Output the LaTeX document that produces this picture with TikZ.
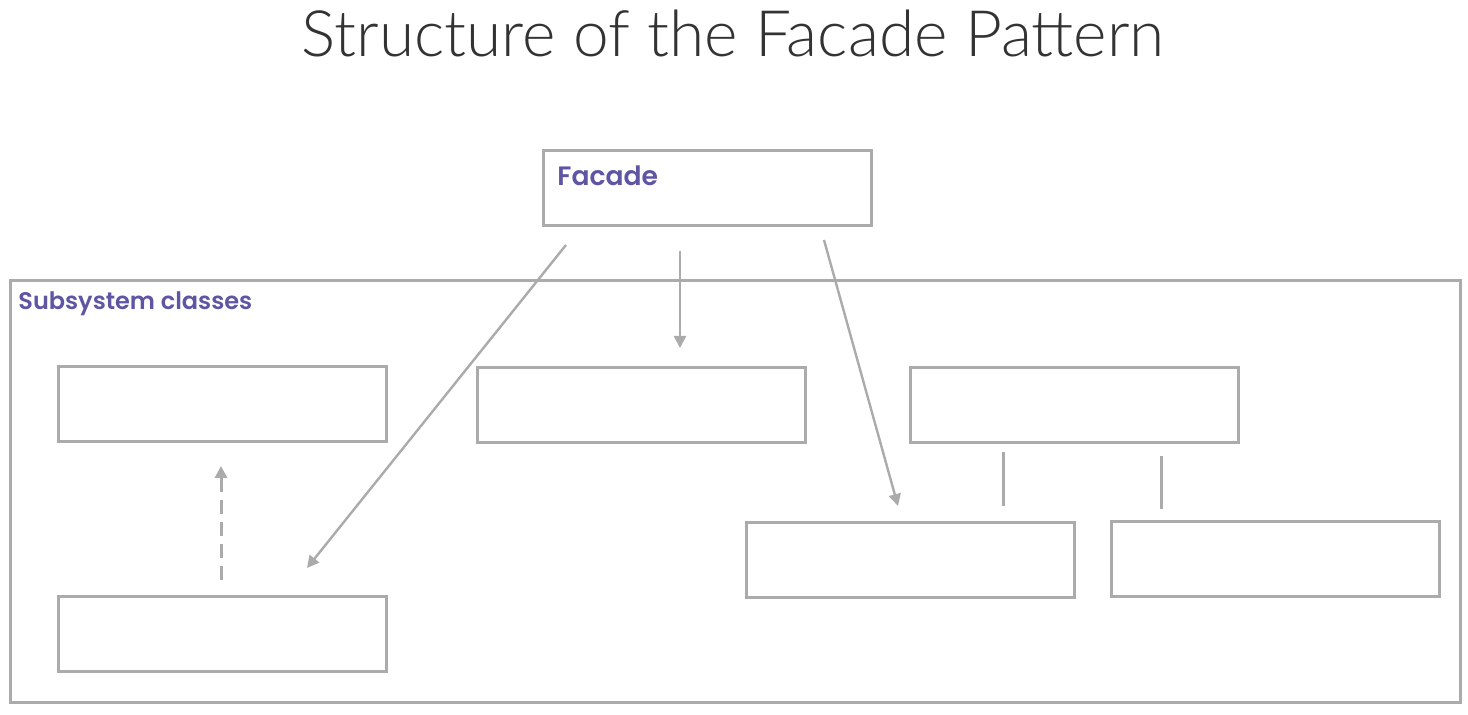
\documentclass[tikz,border=0pt]{standalone}
\usepackage{fontspec}
\setmainfont{Lato}
\newfontfamily\titlefont{Lato Light}
\newfontfamily\labelfont{Poppins SemiBold}
\usetikzlibrary{arrows.meta}
\definecolor{linegray}{HTML}{ABABAB}
\definecolor{labelpurple}{HTML}{5F56A3}
\definecolor{titlegray}{HTML}{333333}
\tikzset{
  x=0.5pt, y=-0.5pt,
  classbox/.style={draw=linegray, line width=1.5pt, fill=white, minimum width=164pt, minimum height=37.5pt, inner sep=0pt},
  conn/.style={draw=linegray, line width=1.2pt},
  arrowconn/.style={conn, -{Triangle[length=6pt,width=6pt]}},
  lbl/.style={font=\labelfont\fontsize{13}{15}\selectfont, text=labelpurple, inner sep=0pt, anchor=north west},
}
\begin{document}
\begin{tikzpicture}
\useasboundingbox (0,0) rectangle (1468,715);
\node[font=\titlefont\fontsize{32}{36}\selectfont, text=titlegray, inner sep=0pt] (title) at (733,33) {Structure of the Facade Pattern};
% container
\node[draw=linegray, line width=1.5pt, minimum width=725pt, minimum height=211pt, inner sep=0pt] (sub) at (735,492) {};
\node[lbl, font=\labelfont\fontsize{12}{14}\selectfont] (sublbl) at (18,291) {Subsystem classes};
% facade
\node[classbox] (facade) at (707,188.5) {};
\node[lbl, font=\labelfont\fontsize{13.3}{15}\selectfont] (facadelbl) at (557,165) {Facade};
% class boxes
\node[classbox] (a) at (222,404) {};
\node[classbox] (b) at (641,405.5) {};
\node[classbox] (c) at (1074,405.5) {};
\node[classbox] (d) at (222,634.5) {};
\node[classbox] (e) at (910,560.5) {};
\node[classbox] (f) at (1275,559.5) {};
% free ends
\coordinate (s1) at (566,245);
\coordinate (t1) at (307,568);
\coordinate (s2) at (680,251);
\coordinate (t2) at (680,348);
\coordinate (s3) at (824,240);
\coordinate (t3) at (898,506);
\coordinate (s4) at (221,580);
\coordinate (t4) at (221,466);
\coordinate (s5) at (1003,452);
\coordinate (t5) at (1003,506);
\coordinate (s6) at (1161,456);
\coordinate (t6) at (1161,509);
\draw[arrowconn] (s1) -- (t1);
\draw[arrowconn] (s2) -- (t2);
\draw[arrowconn] (s3) -- (t3);
\draw[arrowconn, dash pattern=on 7pt off 4pt, line width=1.5pt] (s4) -- (t4);
\draw[conn, line width=1.5pt] (s5) -- (t5);
\draw[conn, line width=1.5pt] (s6) -- (t6);
\end{tikzpicture}
\end{document}
